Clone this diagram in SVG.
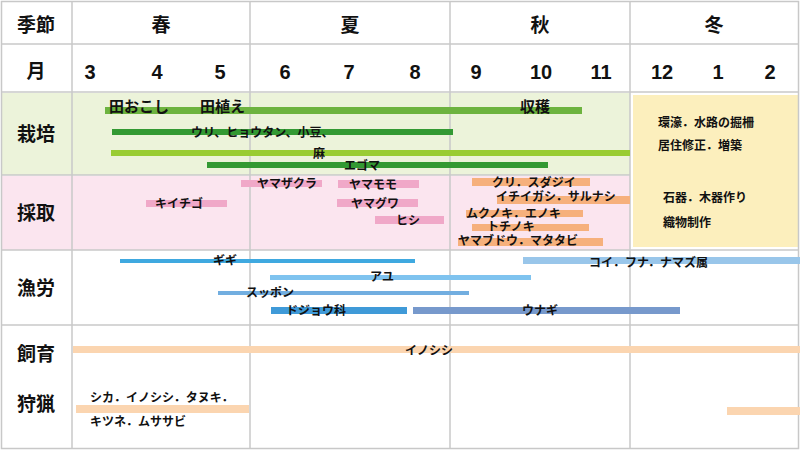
<svg xmlns="http://www.w3.org/2000/svg" width="800" height="450" viewBox="0 0 800 450">
<style>
text{font-family:"Noto Sans CJK JP",sans-serif;font-weight:bold;fill:#111}
.h{font-size:19px;text-anchor:middle}
.m{font-size:20px;text-anchor:middle;font-family:"Liberation Sans","Noto Sans CJK JP",sans-serif}
.l{font-size:12px}
.g{stroke:#c8c8c8;stroke-width:1.5;fill:none}
</style>
<rect width="800" height="450" fill="#fff"/>
<rect x="2" y="93" width="628" height="82" fill="#ecf3da"/>
<rect x="2" y="176" width="628" height="74" fill="#fbe5ef"/>
<rect x="633" y="95" width="165" height="152" fill="#fcefbd"/>
<g id="grid" class="g">
<rect x="1.5" y="1.5" width="797" height="447"/>
<line x1="2" y1="44" x2="798" y2="44"/>
<line x1="2" y1="92" x2="798" y2="92"/>
<line x1="2" y1="175" x2="630" y2="175"/>
<line x1="2" y1="250" x2="798" y2="250"/>
<line x1="2" y1="325" x2="798" y2="325"/>
<line x1="72" y1="2" x2="72" y2="448"/>
<line x1="250" y1="2" x2="250" y2="448"/>
<line x1="450" y1="2" x2="450" y2="448"/>
<line x1="630" y1="2" x2="630" y2="448"/>
</g>
<g id="header">
<text class="h" x="36" y="32">季節</text>
<text class="h" x="161" y="32">春</text>
<text class="h" x="350" y="32">夏</text>
<text class="h" x="540" y="32">秋</text>
<text class="h" x="714" y="32">冬</text>
<text class="h" x="36" y="78">月</text>
<text class="m" x="90" y="79">3</text><text class="m" x="157" y="79">4</text><text class="m" x="220" y="79">5</text>
<text class="m" x="285" y="79">6</text><text class="m" x="349" y="79">7</text><text class="m" x="415" y="79">8</text>
<text class="m" x="476" y="79">9</text><text class="m" x="541" y="79">10</text><text class="m" x="601" y="79">11</text>
<text class="m" x="662" y="79">12</text><text class="m" x="718" y="79">1</text><text class="m" x="770" y="79">2</text>
<text class="h" x="36" y="141">栽培</text>
<text class="h" x="36" y="220">採取</text>
<text class="h" x="36" y="295">漁労</text>
<text class="h" x="36" y="361">飼育</text>
<text class="h" x="36" y="411">狩猟</text>
</g>
<g id="bars">
<rect x="105" y="107" width="477" height="7" fill="#6db33f"/>
<rect x="112" y="129" width="341" height="6" fill="#339933"/>
<rect x="111" y="150" width="519" height="6" fill="#99cc33"/>
<rect x="207" y="162" width="341" height="6" fill="#339933"/>
<rect x="241" y="180" width="81" height="7" fill="#f0a8c8"/>
<rect x="338" y="180" width="81" height="8" fill="#f0a8c8"/>
<rect x="146" y="200" width="81" height="7" fill="#f0a8c8"/>
<rect x="337" y="199" width="81" height="8" fill="#f0a8c8"/>
<rect x="375" y="216" width="69" height="8" fill="#f0a8c8"/>
<rect x="472" y="178" width="118" height="8" fill="#f6b07c"/>
<rect x="497" y="196" width="133" height="8" fill="#f6b07c"/>
<rect x="466" y="210" width="117" height="7" fill="#f6b07c"/>
<rect x="472" y="224" width="117" height="7" fill="#f6b07c"/>
<rect x="458" y="238" width="145" height="8" fill="#f6b07c"/>
<rect x="120" y="259" width="295" height="4" fill="#3fa9e0"/>
<rect x="523" y="257" width="277" height="7" fill="#99c6ea"/>
<rect x="270" y="275" width="261" height="5" fill="#7fc3ef"/>
<rect x="218" y="291" width="251" height="4" fill="#72aee0"/>
<rect x="271" y="307" width="136" height="7" fill="#3f9ad8"/>
<rect x="413" y="307" width="267" height="7" fill="#7799cc"/>
<rect x="73" y="346" width="727" height="7" fill="#fbd5b0"/>
<rect x="76" y="405" width="173" height="8" fill="#fbd5b0"/>
<rect x="727" y="407" width="73" height="8" fill="#fbd5b0"/>
</g>
<g id="labels">
<text x="109" y="112" style="font-size:15px">田おこし</text>
<text x="200" y="112" style="font-size:15px">田植え</text>
<text x="520" y="112" style="font-size:15px">収穫</text>
<text class="l" x="191" y="137">ウリ、ヒョウタン、小豆、</text>
<text class="l" x="313" y="158">麻</text>
<text class="l" x="344" y="170">エゴマ</text>
<text class="l" x="257" y="188">ヤマザクラ</text>
<text class="l" x="349" y="189">ヤマモモ</text>
<text class="l" x="155" y="208">キイチゴ</text>
<text class="l" x="351" y="208">ヤマグワ</text>
<text class="l" x="396" y="225">ヒシ</text>
<text class="l" x="492" y="187">クリ．スダジイ</text>
<text class="l" x="496" y="201">イチイガシ．サルナシ</text>
<text class="l" x="466" y="218">ムクノキ．エノキ</text>
<text class="l" x="487" y="231">トチノキ</text>
<text class="l" x="458" y="245">ヤマブドウ．マタタビ</text>
<text class="l" x="658" y="127">環濠．水路の掘柵</text>
<text class="l" x="658" y="150">居住修正．増築</text>
<text class="l" x="663" y="202">石器．木器作り</text>
<text class="l" x="663" y="227">織物制作</text>
<text class="l" x="213" y="265">ギギ</text>
<text class="l" x="589" y="267">コイ．フナ．ナマズ属</text>
<text class="l" x="370" y="281">アユ</text>
<text class="l" x="246" y="297">スッポン</text>
<text class="l" x="286" y="315">ドジョウ科</text>
<text class="l" x="522" y="315">ウナギ</text>
<text class="l" x="405" y="355">イノシシ</text>
<text class="l" x="90" y="402">シカ．イノシシ．タヌキ．</text>
<text class="l" x="90" y="426">キツネ．ムササビ</text>
</g>
</svg>
